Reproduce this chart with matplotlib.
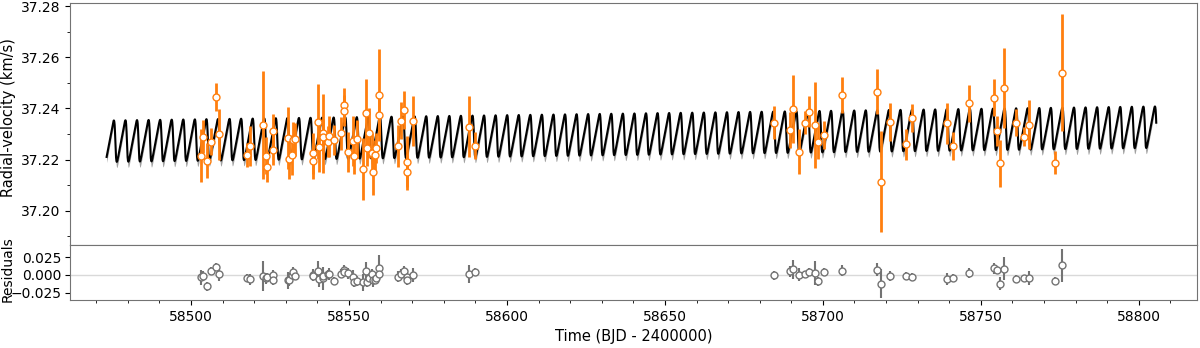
import numpy as np
import matplotlib
matplotlib.use('Agg')
import matplotlib.pyplot as plt
from matplotlib.ticker import MultipleLocator

time = [58503.1, 58503.9, 58505.0, 58506.2, 58508.0, 58509.0, 58517.8, 58518.7,
        58522.9, 58523.7, 58524.0, 58525.9, 58526.0, 58530.6, 58531.0, 58531.9,
        58532.2, 58532.9, 58538.5, 58538.7, 58540.3, 58540.6, 58541.7, 58541.9,
        58543.4, 58543.7, 58545.3, 58547.5, 58548.4, 58548.5, 58549.6, 58551.4,
        58551.6, 58552.4, 58554.5, 58555.4, 58555.6, 58556.4, 58557.4, 58557.5,
        58558.4, 58558.5, 58559.5, 58559.6, 58565.6, 58566.5, 58567.4, 58568.3,
        58568.4, 58570.3, 58588.1, 58590.0,
        58684.6, 58689.6, 58690.4, 58692.5, 58694.3, 58695.6, 58697.5, 58698.3,
        58700.4, 58706.2, 58717.2, 58718.3, 58721.2, 58726.2, 58728.1, 58739.2,
        58741.2, 58746.3, 58754.2, 58755.0, 58756.0, 58757.2, 58761.2, 58763.7,
        58765.1, 58773.6, 58775.8]
rv = [37.2216, 37.2290, 37.2195, 37.2270, 37.2446, 37.2299, 37.2218, 37.2254,
      37.2336, 37.2216, 37.2173, 37.2310, 37.2238, 37.2284, 37.2203, 37.2218,
      37.2277, 37.2280, 37.2225, 37.2195, 37.2349, 37.2251, 37.2303, 37.2290,
      37.2270, 37.2292, 37.2277, 37.2303, 37.2414, 37.2391, 37.2231, 37.2273,
      37.2215, 37.2281, 37.2163, 37.2381, 37.2245, 37.2303, 37.2225, 37.2151,
      37.2218, 37.2245, 37.2453, 37.2375, 37.2254, 37.2352, 37.2394, 37.2192,
      37.2153, 37.2352, 37.2329, 37.2254,
      37.2345, 37.2316, 37.2398, 37.2231, 37.2345, 37.2388, 37.2336, 37.2269,
      37.2297, 37.2453, 37.2466, 37.2114, 37.2347, 37.2260, 37.2362, 37.2342,
      37.2254, 37.2420, 37.2442, 37.2313, 37.2186, 37.2479, 37.2345, 37.2290,
      37.2336, 37.2188, 37.2540]
rv_err = [0.0104, 0.0063, 0.0068, 0.0052, 0.0055, 0.0100, 0.0046, 0.0078,
          0.0210, 0.0072, 0.0060, 0.0070, 0.0060, 0.0120, 0.0080, 0.0080,
          0.0070, 0.0065, 0.0080, 0.0070, 0.0146, 0.0100, 0.0155, 0.0070,
          0.0060, 0.0080, 0.0060, 0.0064, 0.0068, 0.0060, 0.0078, 0.0099,
          0.0070, 0.0075, 0.0120, 0.0133, 0.0070, 0.0098, 0.0080, 0.0091,
          0.0060, 0.0060, 0.0179, 0.0080, 0.0081, 0.0072, 0.0075, 0.0100,
          0.0070, 0.0098, 0.0120, 0.0052,
          0.0065, 0.0072, 0.0133, 0.0089, 0.0046, 0.0060, 0.0169, 0.0068,
          0.0055, 0.0072, 0.0089, 0.0198, 0.0075, 0.0060, 0.0055, 0.0081,
          0.0055, 0.0073, 0.0072, 0.0059, 0.0092, 0.0156, 0.0053, 0.0036,
          0.0096, 0.0044, 0.0229]

# keplerian model parameters (estimated from the drawn curve)
period = 3.661
K = 0.0081
ecc = 0.4
omega = np.pi / 2
t_peri = 58476.06
gamma0 = 37.2272
t_ref = 58475.0
slope = 1.66e-5
t_model_start, t_model_end = 58473.3, 58805.5


def kepler_rv(t):
    t = np.asarray(t)
    M = 2 * np.pi * (t - t_peri) / period
    E = M.copy()
    for _ in range(50):
        E = E - (E - ecc * np.sin(E) - M) / (1 - ecc * np.cos(E))
    nu = 2 * np.arctan2(np.sqrt(1 + ecc) * np.sin(E / 2), np.sqrt(1 - ecc) * np.cos(E / 2))
    return gamma0 + slope * (t - t_ref) + K * (np.cos(nu + omega) + ecc * np.cos(omega))


time = np.array(time)
rv = np.array(rv)
rv_err = np.array(rv_err)
tm = np.linspace(t_model_start, t_model_end, 8000)
model = kepler_rv(tm)
resid = rv - kepler_rv(time)

fig = plt.figure(figsize=(12, 3.48), dpi=100)
ax = fig.add_axes([0.0583, 0.296, 0.9392, 0.695])
axr = fig.add_axes([0.0583, 0.138, 0.9392, 0.158], sharex=ax)

ax.fill_between(tm, model - 0.0022, model + 0.0004, color='0.5', alpha=0.75, lw=0)
ax.plot(tm, model, color='k', lw=1.5, zorder=2)
ax.errorbar(time, rv, yerr=rv_err, fmt='o', color='#ff7f0e', ecolor='#ff7f0e', elinewidth=2,
            mfc='white', mec='#ff7f0e', ms=5, mew=1, capsize=0, zorder=3)
ax.set_ylim(37.1866, 37.2812)
ax.yaxis.set_major_locator(MultipleLocator(0.02))
ax.yaxis.set_minor_locator(MultipleLocator(0.01))
ax.tick_params(axis='x', bottom=False, labelbottom=False, which='both')
ax.tick_params(axis='y', labelsize=10)
fig.text(9 / 1200, 0.661, 'Radial-velocity (km/s)', rotation=90, ha='center', va='center', fontsize=10.5)

axr.axhline(0, color='0.85', lw=1, zorder=0)
axr.errorbar(time, resid, yerr=rv_err, fmt='o', color='0.45', ecolor='0.45', elinewidth=1.5,
             mfc='white', mec='0.45', ms=5, mew=1, capsize=0, zorder=3)
axr.set_ylim(-0.035, 0.042)
axr.yaxis.set_major_locator(MultipleLocator(0.025))
fig.text(8 / 1200, 0.227, 'Residuals', rotation=90, ha='center', va='center', fontsize=10)
axr.set_xlim(58461.7, 58818.4)
axr.xaxis.set_major_locator(MultipleLocator(50))
axr.xaxis.set_minor_locator(MultipleLocator(10))
axr.tick_params(labelsize=10)
axr.tick_params(axis='y', pad=2.5)
axr.set_xlabel('Time (BJD - 2400000)', fontsize=10.5)

for a in (ax, axr):
    for s in a.spines.values():
        s.set_color('0.45')

fig.savefig('out.png', dpi=100)
